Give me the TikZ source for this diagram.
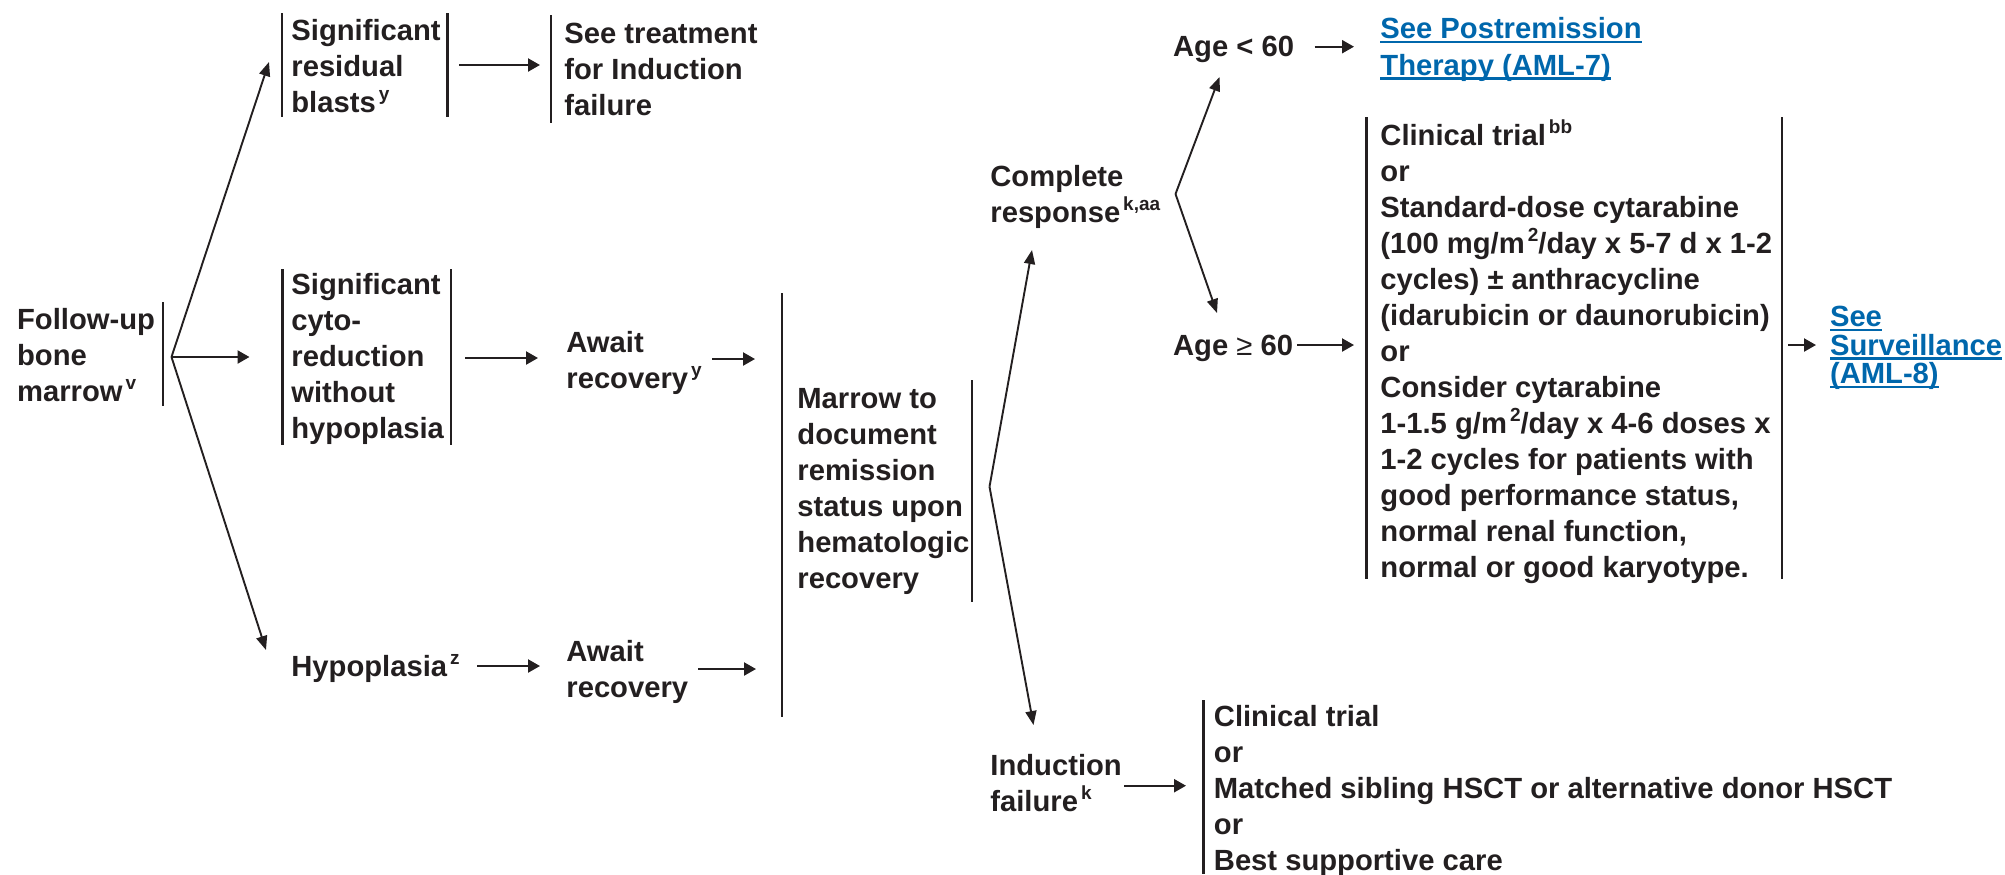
\documentclass[tikz,border=0pt]{standalone}
\usepackage{fontspec}
\setmainfont{Liberation Sans}
\usetikzlibrary{arrows.meta}
\definecolor{ink}{RGB}{35,31,32}
\definecolor{link}{RGB}{0,103,172}
% footnote marks, raised and reduced
\newcommand\fn[1]{\hspace{1.5pt}\raisebox{6pt}{\fontsize{9.5}{9.5}\selectfont #1}}
% underlined link text (rule sits just under the baseline)
\newsavebox\lnkbox
\newcommand\lnk[1]{\sbox\lnkbox{#1}\rlap{\rule[-2.3pt]{\wd\lnkbox}{1.1pt}}\usebox\lnkbox}
\begin{document}
\begin{tikzpicture}[x=0.5pt,y=-0.5pt,
  % multi-line nodes are placed by the baseline of their last line
  txt/.style={anchor=base west, inner sep=0pt, align=left,
    font=\fontsize{14.6}{18}\selectfont\bfseries, text=ink},
  linktxt/.style={txt, text=link},
  bar/.style={draw=ink, line width=1.3pt},
  arr/.style={draw=ink, line width=1.1pt, -{Triangle[length=6pt,width=6.5pt]}},
  darr/.style={draw=ink, line width=0.95pt, -{Triangle[length=7pt,width=5.5pt]}}]
\useasboundingbox (0,0) rectangle (2005,874);

% ---------- text blocks ----------
\node[txt] (fu)   at (16.7,401.5)  {Follow-up\\bone\\marrow\fn{v}};
\node[txt] (srb)  at (291,112)    {Significant\\residual\\blasts\fn{y}};
\node[txt] (stf)  at (564,115)    {See treatment\\for Induction\\failure};
\node[txt] (scr)  at (291,438)   {Significant\\cyto-\\reduction\\without\\hypoplasia};
\node[txt] (awy)  at (566,388)   {Await\\recovery\fn{y}};
\node[txt] (hyp)  at (291,676)   {Hypoplasia\fn{z}};
\node[txt] (awr)  at (566,697)   {Await\\recovery};
\node[txt] (mtd)  at (797,588.5)   {Marrow to\\document\\remission\\status upon\\hematologic\\recovery};
\node[txt] (cr)   at (990,222)   {Complete\\response\fn{k,aa}};
\node[txt] (ylt)  at (1172.7,56.7) {Age < 60};
\node[linktxt] (post) at (1380,75) {\lnk{See Postremission}\\[0.35pt]\lnk{Therapy (AML-7)}};
\node[txt] (yge)  at (1172.7,355) {Age {\mdseries ≥} 60};
\node[txt] (ct)   at (1380,577)  {Clinical trial\fn{bb}\\or\\Standard-dose cytarabine\\(100 mg/m\fn{2}/day x 5-7 d x 1-2\\cycles) ± anthracycline\\(idarubicin or daunorubicin)\\or\\Consider cytarabine\\1-1.5 g/m\fn{2}/day x 4-6 doses x\\1-2 cycles for patients with\\good performance status,\\normal renal function,\\normal or good karyotype.};
\node[linktxt, font=\fontsize{14.6}{14.15}\selectfont\bfseries] (surv) at (1829.6,383.3) {\lnk{See}\\\lnk{Surveillance}\\\lnk{(AML-8)}};
\node[txt] (indf) at (990,811.7) {Induction\\failure\fn{k}};
\node[txt] (opts) at (1213.5,870) {Clinical trial\\or\\Matched sibling HSCT or alternative donor HSCT\\or\\Best supportive care};

% ---------- bracket bars ----------
\draw[bar] (163,302) -- (163,406);
\draw[bar] (282,13) -- (282,117);
\draw[bar] (447.5,13) -- (447.5,117);
\draw[bar] (551,15) -- (551,123);
\draw[bar] (282.7,269) -- (282.7,445);
\draw[bar] (451,269) -- (451,445);
\draw[bar] (782,293) -- (782,717);
\draw[bar] (972,380) -- (972,602);
\draw[bar] (1366.5,117) -- (1366.5,579);
\draw[bar] (1782,117) -- (1782,579);
\draw[bar] (1203.5,700) -- (1203.5,874);

% ---------- connector end points ----------
\coordinate (fuO)   at (171.5,357);
\coordinate (srbIn) at (269,62);
\coordinate (scrIn) at (249.5,357);
\coordinate (hypIn) at (266,650);
\coordinate (srbOut) at (459,65);   \coordinate (stfIn) at (540,65);
\coordinate (scrOut) at (465,358);  \coordinate (awyIn) at (538,358);
\coordinate (awyOut) at (712,359);  \coordinate (mtdIn1) at (755,359);
\coordinate (hypOut) at (477,666);  \coordinate (awrIn) at (540,666);
\coordinate (awrOut) at (698,669);  \coordinate (mtdIn2) at (756,669);
\coordinate (mtdO)  at (989.5,486.7);
\coordinate (crIn)  at (1032,250);
\coordinate (indfIn) at (1033.5,725);
\coordinate (crO)   at (1175.5,194);
\coordinate (yltIn) at (1219.5,77);
\coordinate (ygeIn) at (1217,313);
\coordinate (yltOut) at (1314.5,46.7); \coordinate (postIn) at (1354,46.7);
\coordinate (ygeOut) at (1297,345);    \coordinate (ctIn) at (1354,345);
\coordinate (ctOut) at (1788,345);     \coordinate (survIn) at (1816,345);
\coordinate (indfOut) at (1124,785.7); \coordinate (optsIn) at (1186,785.7);

% ---------- connectors ----------
\draw[darr] (fuO) -- (srbIn);
\draw[arr]  (fuO) -- (scrIn);
\draw[darr] (fuO) -- (hypIn);
\draw[arr] (srbOut) -- (stfIn);
\draw[arr] (scrOut) -- (awyIn);
\draw[arr] (awyOut) -- (mtdIn1);
\draw[arr] (hypOut) -- (awrIn);
\draw[arr] (awrOut) -- (mtdIn2);
\draw[darr] (mtdO) -- (crIn);
\draw[darr] (mtdO) -- (indfIn);
\draw[darr] (crO) -- (yltIn);
\draw[darr] (crO) -- (ygeIn);
\draw[arr] (yltOut) -- (postIn);
\draw[arr] (ygeOut) -- (ctIn);
\draw[arr] (ctOut) -- (survIn);
\draw[arr] (indfOut) -- (optsIn);
\end{tikzpicture}
\end{document}
